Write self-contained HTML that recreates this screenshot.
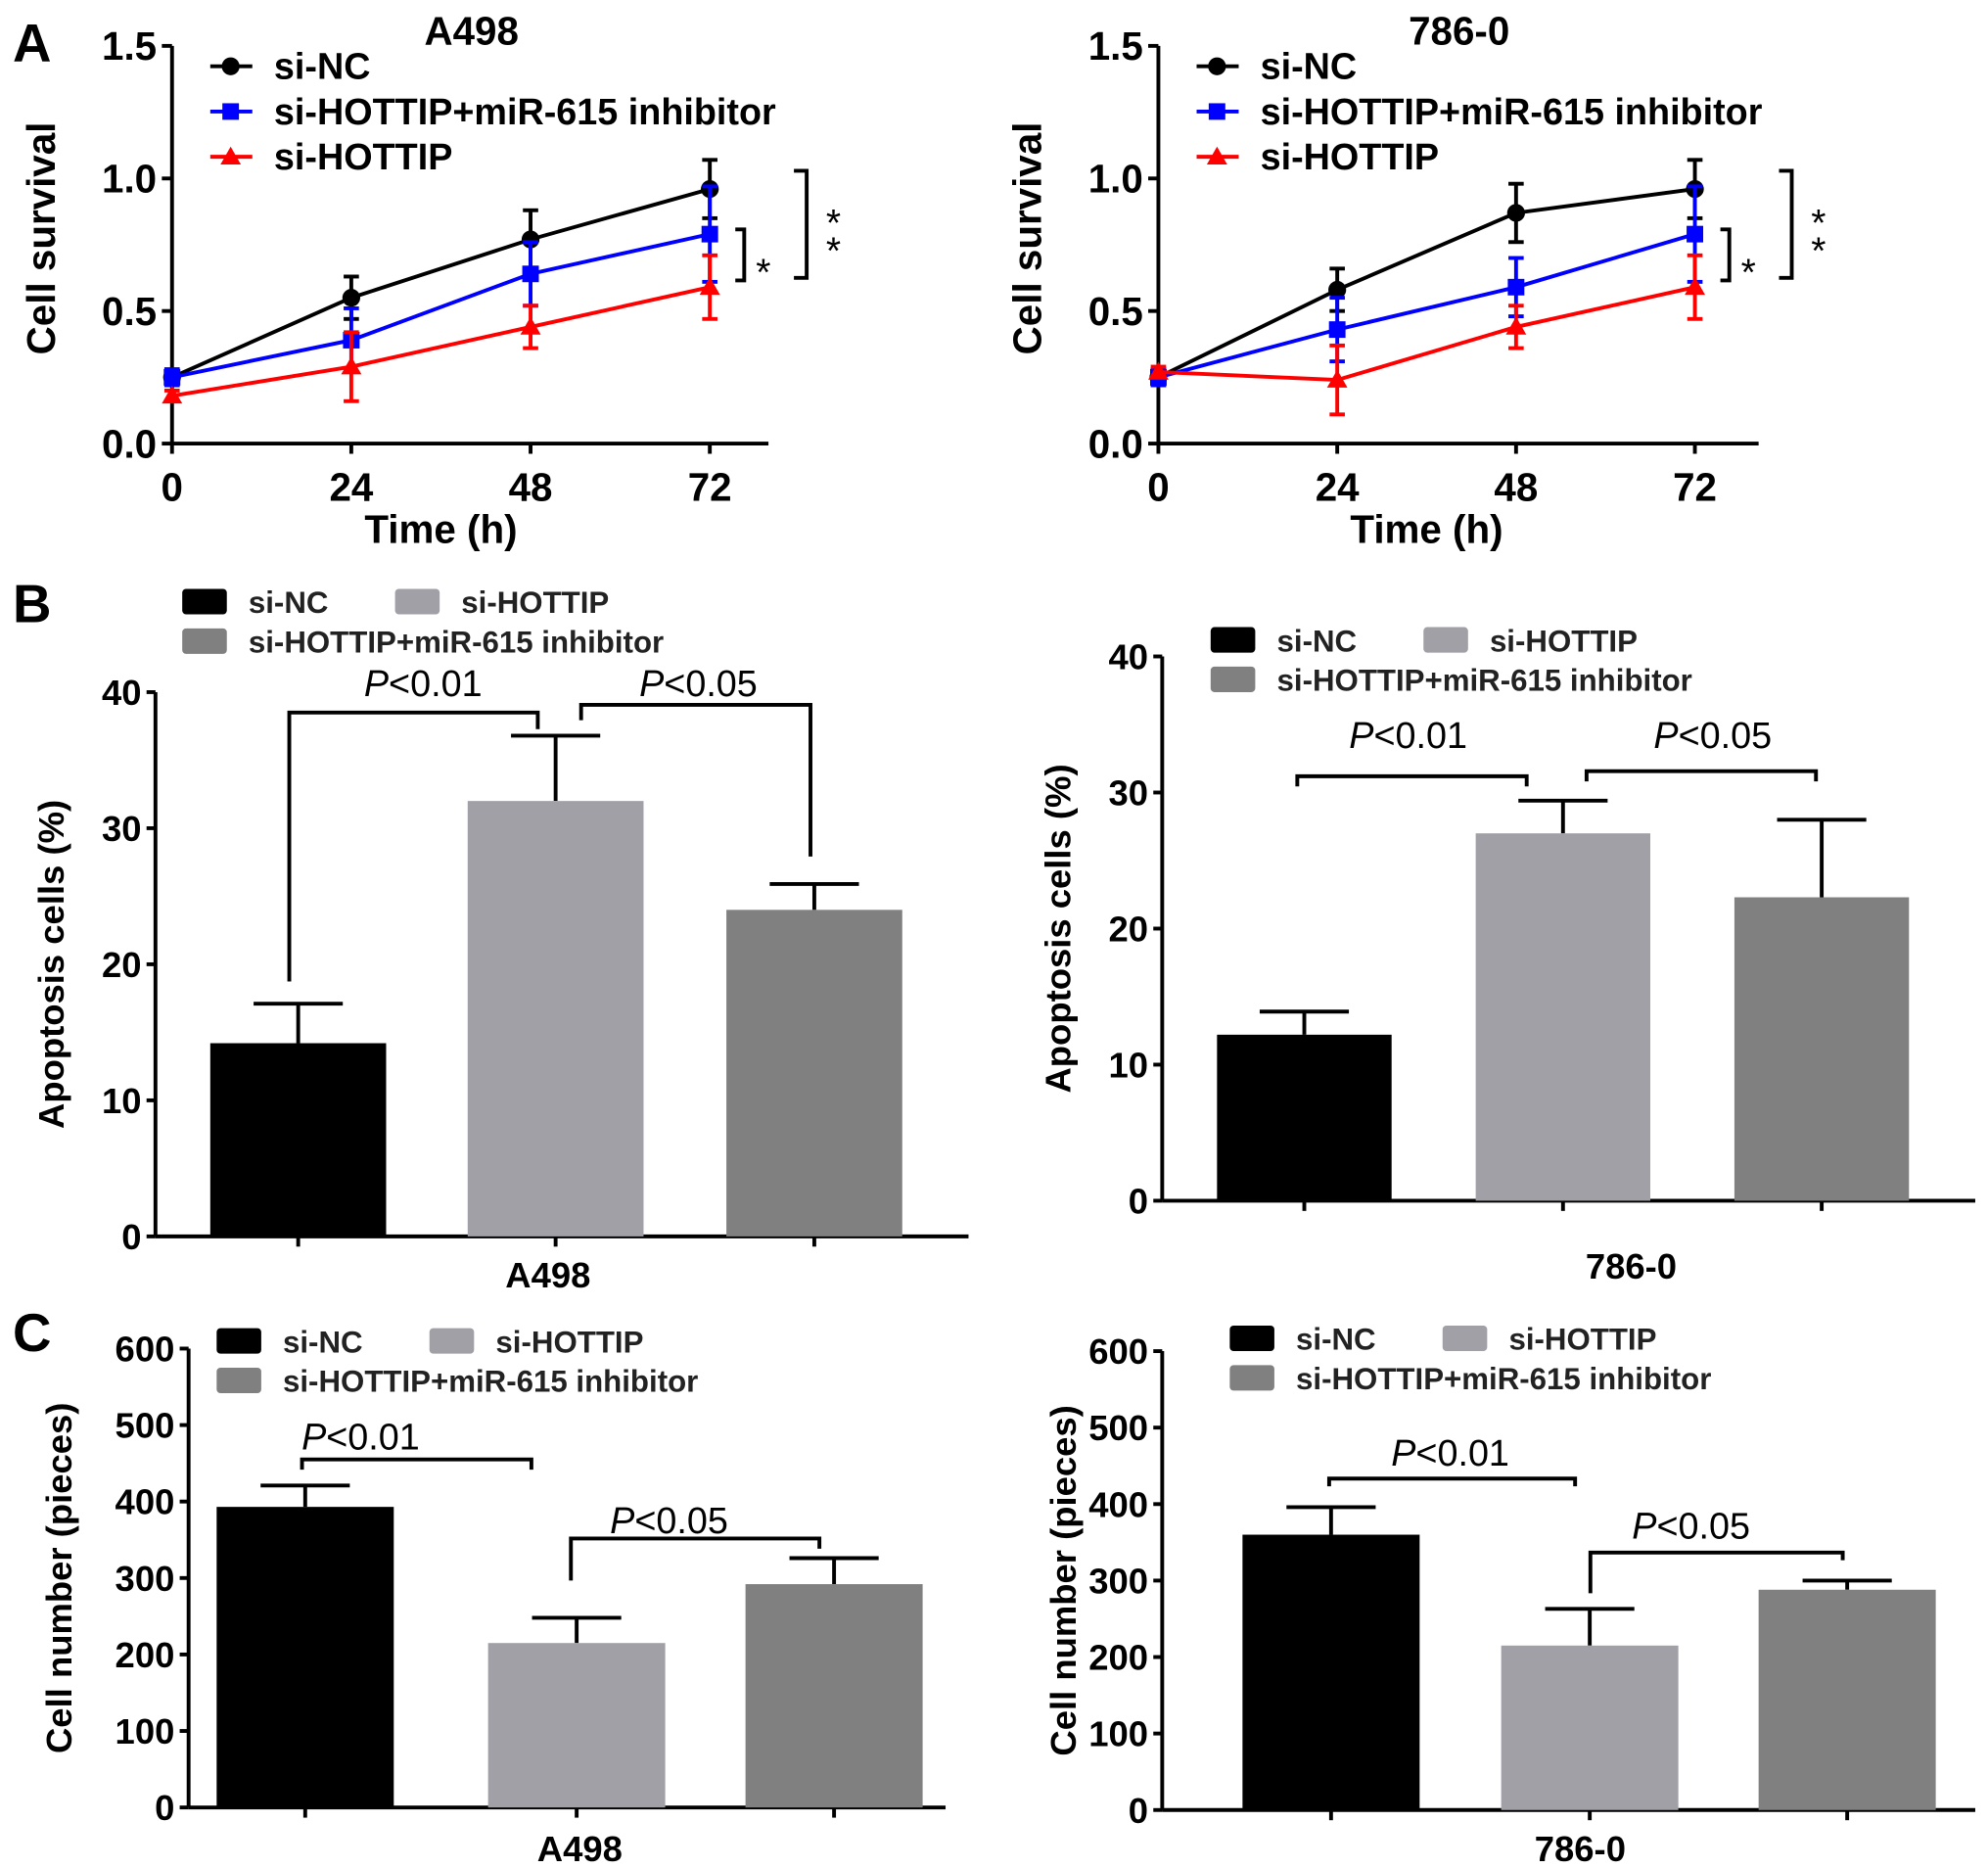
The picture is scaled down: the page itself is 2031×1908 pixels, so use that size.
<!DOCTYPE html>
<html><head><meta charset="utf-8"><style>
html,body{margin:0;padding:0;background:#fff;}
svg{display:block;font-family:"Liberation Sans",Arial,sans-serif;}
</style></head><body>
<svg id="fig" xmlns="http://www.w3.org/2000/svg" width="2031" height="1908" viewBox="0 0 1560 1465.5" preserveAspectRatio="none">
<text x="10" y="48" font-size="42" font-weight="bold">A</text>
<text x="10" y="488" font-size="42" font-weight="bold">B</text>
<text x="10" y="1060" font-size="42" font-weight="bold">C</text>
</svg>
<script>
// ---- Panel A data ----
const timeCats = [0, 24, 48, 72];
const yTicksA = [0.0, 0.5, 1.0, 1.5];
const a498_siNC = [0.25, 0.55, 0.77, 0.96];
const a498_siNC_err = [0.03, 0.08, 0.11, 0.11];
const a498_inh = [0.25, 0.39, 0.64, 0.79];
const a498_inh_err = [0.03, 0.12, 0.12, 0.18];
const a498_siH = [0.18, 0.29, 0.44, 0.59];
const a498_siH_err = [0.02, 0.13, 0.08, 0.12];
const r786_siNC = [0.25, 0.58, 0.87, 0.96];
const r786_siNC_err = [0.03, 0.08, 0.11, 0.11];
const r786_inh = [0.25, 0.43, 0.59, 0.79];
const r786_inh_err = [0.03, 0.12, 0.11, 0.18];
const r786_siH = [0.27, 0.24, 0.44, 0.59];
const r786_siH_err = [0.02, 0.13, 0.08, 0.12];
// ---- Panel B data ----
const yTicksB = [0, 10, 20, 30, 40];
const apopA498 = [14.2, 32.0, 24.0];
const apopA498_err = [2.9, 4.8, 1.9];
const apop786 = [12.2, 27.0, 22.3];
const apop786_err = [1.7, 2.4, 5.7];
// ---- Panel C data ----
const yTicksC = [0, 100, 200, 300, 400, 500, 600];
const cellA498 = [393, 215, 292];
const cellA498_err = [28, 33, 34];
const cell786 = [360, 215, 288];
const cell786_err = [36, 48, 12];

const NS = "http://www.w3.org/2000/svg";
const svg = document.getElementById('fig');
function mk(tag, attrs, parent, text) {
  const e = document.createElementNS(NS, tag);
  for (const k in attrs) e.setAttribute(k, attrs[k]);
  if (text !== undefined) e.textContent = text;
  (parent || svg).appendChild(e);
  return e;
}
function line(g, x1, y1, x2, y2, col, w) { return mk('line', {x1, y1, x2, y2, stroke: col || '#000', 'stroke-width': w || 3}, g); }

function lineChart(o) {
  const g = mk('g', {});
  
  
  const X = v => o.x0 + (v - timeCats[0]) / (timeCats[3] - timeCats[0]) * (o.x72 - o.x0);
  const Y = v => o.yb - v / 1.5 * (o.yb - o.yt);
  line(g, o.x0, o.yt, o.x0, o.yb);
  line(g, o.x0, o.yb, o.xe, o.yb);
  yTicksA.forEach(t => {
    line(g, o.x0 - 8, Y(t), o.x0, Y(t));
    const tx = mk('text', {x: o.x0 - 12, y: Y(t) + 11, 'font-size': 31, 'font-weight': 'bold', 'text-anchor': 'end'}, g, t.toFixed(1));
    
    
  });
  timeCats.forEach(t => {
    line(g, X(t), o.yb, X(t), o.yb + 8);
    const tx = mk('text', {x: X(t), y: o.yb + 45, 'font-size': 31, 'font-weight': 'bold', 'text-anchor': 'middle'}, g, String(t));
    
    
  });
  const xt = mk('text', {x: (o.x0 + o.x72) / 2, y: o.yb + 78, 'font-size': 31, 'font-weight': 'bold', 'text-anchor': 'middle'}, g, 'Time (h)');
  
  
  const yt = mk('text', {x: 0, y: 0, 'font-size': 31, 'font-weight': 'bold', 'text-anchor': 'middle', transform: `translate(${o.x0 - 92},${(o.yt + o.yb) / 2 - 5}) rotate(-90)`}, g, 'Cell survival');
  
  
  const ti = mk('text', {x: o.titleX, y: 35, 'font-size': 31, 'font-weight': 'bold', 'text-anchor': 'middle'}, g, o.title);
  
  
  o.series.forEach((s, si) => {
    const sg = mk('g', {}, g);
    
    
    s.vals.forEach((v, i) => {
      const x = X(timeCats[i]);
      line(sg, x, Y(v - s.err[i]), x, Y(v + s.err[i]), s.col, 3);
      line(sg, x - 6, Y(v + s.err[i]), x + 6, Y(v + s.err[i]), s.col, 3);
      line(sg, x - 6, Y(v - s.err[i]), x + 6, Y(v - s.err[i]), s.col, 3);
    });
    mk('polyline', {points: s.vals.map((v, i) => X(timeCats[i]) + ',' + Y(v)).join(' '), fill: 'none', stroke: s.col, 'stroke-width': 3}, sg);
    s.vals.forEach((v, i) => {
      const x = X(timeCats[i]), y = Y(v);
      let m;
      if (s.shape === 'c') m = mk('circle', {cx: x, cy: y, r: 7, fill: s.col}, sg);
      else if (s.shape === 's') m = mk('rect', {x: x - 6.5, y: y - 6.5, width: 13, height: 13, fill: s.col}, sg);
      else m = mk('polygon', {points: `${x},${y - 8} ${x - 8},${y + 6} ${x + 8},${y + 6}`, fill: s.col}, sg);
      
      
    });
    const ly = 52 + si * 35.5, lx = o.x0 + 30;
    const lg = mk('g', {}, g);
    
    
    line(lg, lx, ly, lx + 33, ly, s.col, 3);
    if (s.shape === 'c') mk('circle', {cx: lx + 16, cy: ly, r: 7, fill: s.col}, lg);
    else if (s.shape === 's') mk('rect', {x: lx + 9.5, y: ly - 6.5, width: 13, height: 13, fill: s.col}, lg);
    else mk('polygon', {points: `${lx + 16},${ly - 8} ${lx + 8},${ly + 6} ${lx + 24},${ly + 6}`, fill: s.col}, lg);
    mk('text', {x: lx + 50, y: ly + 10, 'font-size': 29, 'font-weight': 'bold'}, lg, s.label);
  });
  const b = mk('g', {}, g);
  
  
  const bx = o.x72;
  mk('polyline', {points: `${bx + 20},${o.yb - 168} ${bx + 27},${o.yb - 168} ${bx + 27},${o.yb - 128} ${bx + 20},${o.yb - 128}`, fill: 'none', stroke: '#000', 'stroke-width': 3}, b);
  mk('text', {x: bx + 42, y: o.yb - 124, 'font-size': 30, 'text-anchor': 'middle'}, b, '*');
  mk('polyline', {points: `${bx + 66},${o.yb - 214} ${bx + 76},${o.yb - 214} ${bx + 76},${o.yb - 130} ${bx + 66},${o.yb - 130}`, fill: 'none', stroke: '#000', 'stroke-width': 3}, b);
  mk('text', {x: bx + 97, y: o.yb - 163, 'font-size': 30, 'text-anchor': 'middle'}, b, '*');
  mk('text', {x: bx + 97, y: o.yb - 141, 'font-size': 30, 'text-anchor': 'middle'}, b, '*');
}

lineChart({name: 'survival-chart-a498', title: 'A498', titleX: 370, x0: 135, x72: 557, xe: 603, yt: 36, yb: 348,
  series: [
    {key: 'si-nc', label: 'si-NC', col: '#000', shape: 'c', vals: a498_siNC, err: a498_siNC_err},
    {key: 'si-hottip-inhibitor', label: 'si-HOTTIP+miR-615 inhibitor', col: '#0000ff', shape: 's', vals: a498_inh, err: a498_inh_err},
    {key: 'si-hottip', label: 'si-HOTTIP', col: '#ff0000', shape: 't', vals: a498_siH, err: a498_siH_err}]});
lineChart({name: 'survival-chart-786', title: '786-0', titleX: 1145, x0: 909, x72: 1330, xe: 1380, yt: 36, yb: 348,
  series: [
    {key: 'si-nc', label: 'si-NC', col: '#000', shape: 'c', vals: r786_siNC, err: r786_siNC_err},
    {key: 'si-hottip-inhibitor', label: 'si-HOTTIP+miR-615 inhibitor', col: '#0000ff', shape: 's', vals: r786_inh, err: r786_inh_err},
    {key: 'si-hottip', label: 'si-HOTTIP', col: '#ff0000', shape: 't', vals: r786_siH, err: r786_siH_err}]});

const barCols = ['#000000', '#a0a0a6', '#808080'];
function barChart(o) {
  const g = mk('g', {});
  
  
  const max = o.ticks[o.ticks.length - 1];
  const Y = v => o.yb - v / max * (o.yb - o.yt);
  line(g, o.x0, o.yt, o.x0, o.yb);
  line(g, o.x0, o.yb, o.xe, o.yb);
  o.ticks.forEach(t => {
    line(g, o.x0 - 7, Y(t), o.x0, Y(t));
    const tx = mk('text', {x: o.x0 - 11, y: Y(t) + 10, 'font-size': 28, 'text-anchor': 'end', 'font-weight': 'bold'}, g, String(t));
    
    
  });
  o.vals.forEach((v, i) => {
    const cx = o.bx[i] + o.bw / 2;
    line(g, cx, o.yb, cx, o.yb + 8);
    const top = Y(v + o.err[i]);
    line(g, cx, top, cx, Y(v));
    line(g, cx - 35, top, cx + 35, top);
    const r = mk('rect', {x: o.bx[i], y: Y(v), width: o.bw, height: o.yb - Y(v), fill: barCols[i]}, g);
    
    
  });
  const xl = mk('text', {x: o.catX, y: o.catY, 'font-size': 28, 'font-weight': 'bold', 'text-anchor': 'middle'}, g, o.cat);
  
  
  const yl = mk('text', {x: 0, y: 0, 'font-size': 28, 'font-weight': 'bold', 'text-anchor': 'middle', transform: `translate(${o.ylx},${(o.yt + o.yb) / 2}) rotate(-90)`}, g, o.ytitle);
  
  
  const L = [[o.lx, o.ly, 0, 'si-NC'], [o.lx + o.lx2, o.ly, 1, 'si-HOTTIP'], [o.lx, o.ly + 31, 2, 'si-HOTTIP+miR-615 inhibitor']];
  L.forEach(l => {
    const lg = mk('g', {}, g);
    
    
    mk('rect', {x: l[0], y: l[1] - 10, width: 35, height: 20, rx: 3, fill: barCols[l[2]]}, lg);
    mk('text', {x: l[0] + 52, y: l[1] + 9, 'font-size': 24, 'font-weight': 'bold', fill: '#222'}, lg, l[3]);
  });
  o.brackets.forEach(bk => {
    const bg = mk('g', {}, g);
    
    
    mk('polyline', {points: `${bk[0]},${bk[3]} ${bk[0]},${bk[2]} ${bk[1]},${bk[2]} ${bk[1]},${bk[4]}`, fill: 'none', stroke: '#000', 'stroke-width': 3}, bg);
    const t = mk('text', {x: bk[5], y: bk[6], 'font-size': 29, 'text-anchor': 'middle'}, bg);
    mk('tspan', {'font-style': 'italic'}, t, 'P');
    mk('tspan', {}, t, bk[7]);
  });
}

barChart({name: 'apoptosis-chart-a498', x0: 122, xe: 760, yt: 543, yb: 970, ticks: yTicksB, vals: apopA498, err: apopA498_err,
  bx: [165, 367, 570], bw: 138, cat: 'A498', catX: 430, catY: 1010, ylx: 50, ytitle: 'Apoptosis cells (%)',
  lx: 143, ly: 472, lx2: 167,
  brackets: [[227, 422, 559, 770, 572, 332, 546, '<0.01'], [456, 636, 553, 565, 672, 548, 546, '<0.05']]});
barChart({name: 'apoptosis-chart-786', x0: 912, xe: 1550, yt: 515, yb: 942, ticks: yTicksB, vals: apop786, err: apop786_err,
  bx: [955, 1158, 1361], bw: 137, cat: '786-0', catX: 1280, catY: 1003, ylx: 840, ytitle: 'Apoptosis cells (%)',
  lx: 950, ly: 502, lx2: 167,
  brackets: [[1018, 1198, 609, 617, 617, 1105, 587, '<0.01'], [1245, 1425, 605, 613, 613, 1344, 587, '<0.05']]});
barChart({name: 'cell-number-chart-a498', x0: 148, xe: 742, yt: 1058, yb: 1418, ticks: yTicksC, vals: cellA498, err: cellA498_err,
  bx: [170, 383, 585], bw: 139, cat: 'A498', catX: 455, catY: 1460, ylx: 56, ytitle: 'Cell number (pieces)',
  lx: 170, ly: 1052, lx2: 167,
  brackets: [[237, 417, 1145, 1153, 1153, 283, 1137, '<0.01'], [448, 643, 1207, 1240, 1215, 525, 1203, '<0.05']]});
barChart({name: 'cell-number-chart-786', x0: 912, xe: 1550, yt: 1060, yb: 1420, ticks: yTicksC, vals: cell786, err: cell786_err,
  bx: [975, 1178, 1380], bw: 139, cat: '786-0', catX: 1240, catY: 1460, ylx: 844, ytitle: 'Cell number (pieces)',
  lx: 965, ly: 1050, lx2: 167,
  brackets: [[1043, 1236, 1160, 1166, 1166, 1138, 1150, '<0.01'], [1248, 1446, 1218, 1250, 1224, 1327, 1207, '<0.05']]});
</script>
</body></html>
